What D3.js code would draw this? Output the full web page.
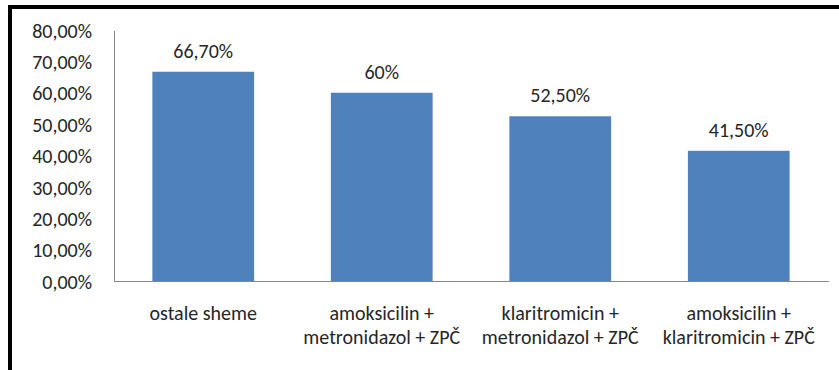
<!DOCTYPE html>
<html>
<head>
<meta charset="utf-8">
<script src="https://cdn.jsdelivr.net/npm/d3@7"></script>
<style>
  body { margin: 0; background: #fff; }
  svg { display: block; }
  text { font-family: Carlito, Lato, "Liberation Sans", sans-serif; fill: #262626; }
  .axis path, .axis line { stroke: #868686; shape-rendering: crispEdges; }
</style>
</head>
<body>
<div id="chart"></div>
<script>
  // data
  const categories = ["ostale sheme", "amoksicilin + metronidazol + ZPČ",
    "klaritromicin + metronidazol + ZPČ", "amoksicilin + klaritromicin + ZPČ"];
  const categoryLines = [
    ["ostale sheme"],
    ["amoksicilin +", "metronidazol + ZPČ"],
    ["klaritromicin +", "metronidazol + ZPČ"],
    ["amoksicilin +", "klaritromicin + ZPČ"]
  ];
  const values = [0.667, 0.60, 0.525, 0.415];
  const valueLabels = ["66,70%", "60%", "52,50%", "41,50%"];
  const yTicks = [0, 0.1, 0.2, 0.3, 0.4, 0.5, 0.6, 0.7, 0.8];

  const width = 839, height = 370;
  const plot = { left: 114, right: 828, top: 30, bottom: 281 };
  const fontSize = "20px";

  const locale = d3.formatLocale({ decimal: ",", thousands: ".", grouping: [3], currency: ["", " kn"] });
  const pct = locale.format(".2%");

  const svg = d3.select("#chart").append("svg")
    .attr("width", width)
    .attr("height", height);

  // outer frame (left and top only visible)
  svg.append("rect").attr("x", 8).attr("y", 5).attr("width", 4).attr("height", height - 5).attr("fill", "#000");
  svg.append("rect").attr("x", 8).attr("y", 5).attr("width", width - 8).attr("height", 4).attr("fill", "#000");

  const x = d3.scaleBand()
    .domain(categories)
    .range([plot.left, plot.right])
    .paddingInner(0.43)
    .paddingOuter(0.215);

  const y = d3.scaleLinear()
    .domain([0, 0.8])
    .range([plot.bottom, plot.top]);

  // y axis
  const yAxis = svg.append("g")
    .attr("class", "axis y")
    .attr("transform", "translate(" + plot.left + ",0)")
    .call(d3.axisLeft(y).tickValues(yTicks).tickFormat(pct).tickSize(0).tickPadding(22));
  yAxis.selectAll("text").style("font-size", fontSize).attr("dy", "0.36em");

  // bars
  svg.selectAll("rect.bar")
    .data(values)
    .enter().append("rect")
    .attr("class", "bar")
    .attr("x", (d, i) => x(categories[i]))
    .attr("y", d => y(d))
    .attr("width", x.bandwidth())
    .attr("height", d => y(0) - y(d))
    .attr("fill", "#4F81BD");

  // x axis baseline
  svg.append("g")
    .attr("class", "axis x")
    .attr("transform", "translate(0," + plot.bottom + ")")
    .call(d3.axisBottom(x).tickSize(0).tickFormat(""));

  // category labels, wrapped as in the original
  categoryLines.forEach((lines, i) => {
    const cx = x(categories[i]) + x.bandwidth() / 2;
    const t = svg.append("text")
      .attr("text-anchor", "middle")
      .style("font-size", fontSize)
      .attr("x", cx)
      .attr("y", 320);
    lines.forEach((ln, j) => {
      t.append("tspan")
        .attr("x", cx)
        .attr("dy", j === 0 ? 0 : 24)
        .text(ln);
    });
  });

  // value labels
  svg.selectAll("text.val")
    .data(values)
    .enter().append("text")
    .attr("class", "val")
    .attr("text-anchor", "middle")
    .style("font-size", fontSize)
    .attr("x", (d, i) => x(categories[i]) + x.bandwidth() / 2)
    .attr("y", d => y(d) - 14)
    .text((d, i) => valueLabels[i]);
</script>
</body>
</html>
